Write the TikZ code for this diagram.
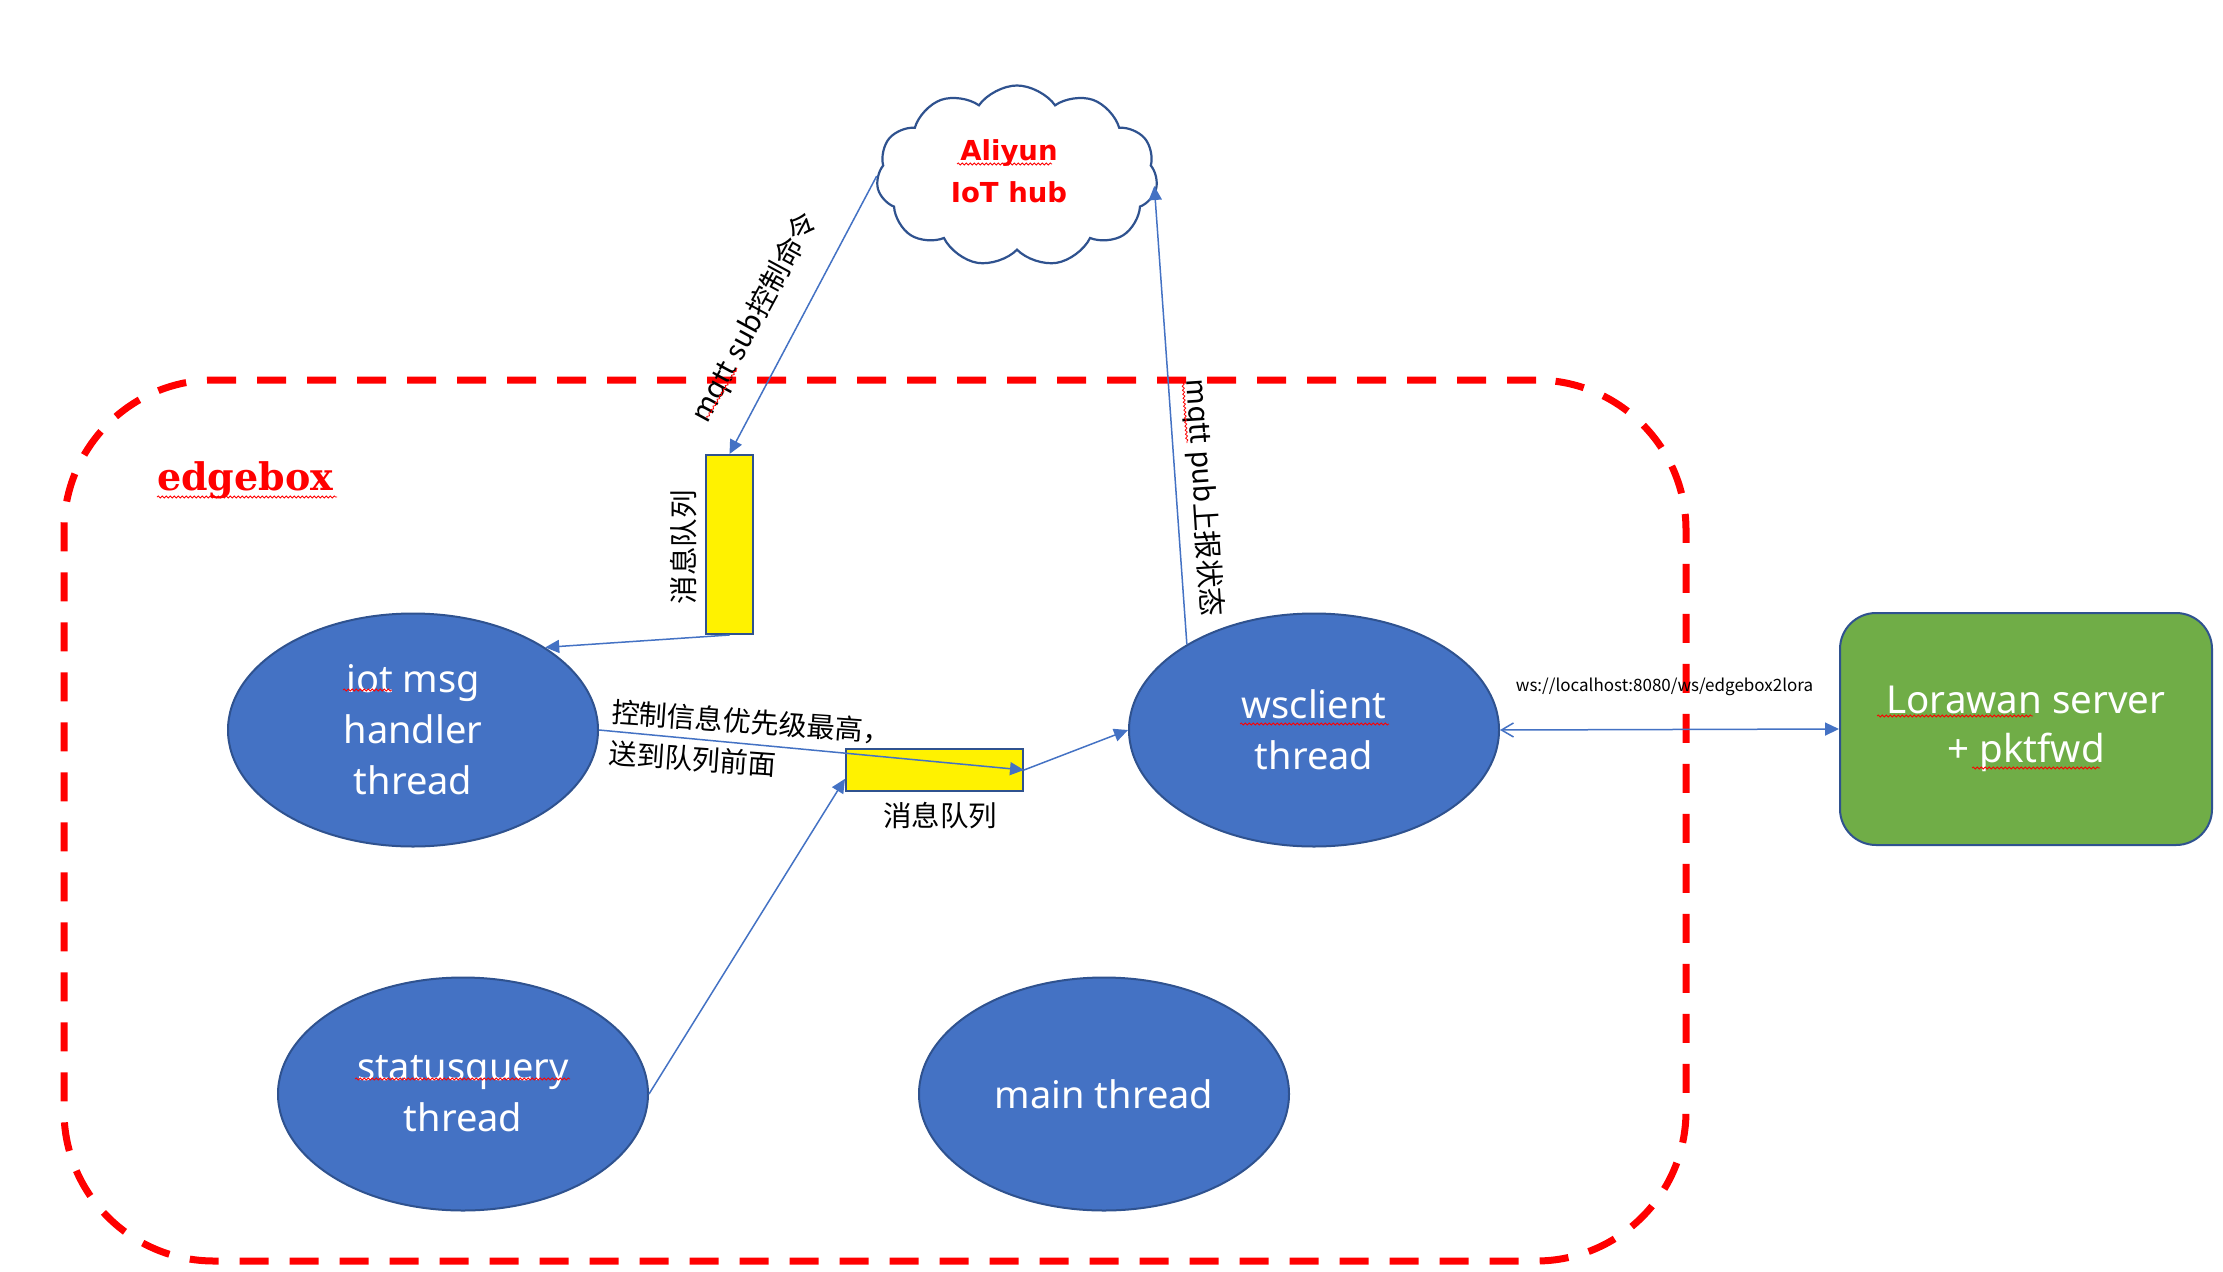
\documentclass[tikz,border=0pt]{standalone}
\usepackage{fontspec}
\usetikzlibrary{shapes.geometric,shapes.symbols,arrows.meta,calc,decorations.pathmorphing}
\newfontfamily\cjkf{Noto Sans CJK SC}
\newfontfamily\nsf{Noto Sans}
\newfontfamily\dvsf{DejaVu Sans}
\newfontfamily\dvserf{DejaVu Serif}
\definecolor{ppblue}{HTML}{4472C4}
\definecolor{ppedge}{HTML}{2F528F}
\definecolor{ppgreen}{HTML}{70AD47}
\tikzset{
  thread/.style={ellipse, draw=ppedge, line width=2pt, fill=ppblue, minimum width=370pt, minimum height=233pt,
    text=white, font=\nsf\fontsize{38}{51}\selectfont, align=center, inner sep=0pt},
  lorabox/.style={rectangle, rounded corners=36pt, draw=ppedge, line width=2pt, fill=ppgreen, minimum width=372pt,
    minimum height=232pt, text=white, font=\nsf\fontsize{38.5}{49}\selectfont, align=center, inner sep=0pt},
  queue/.style={rectangle, draw=ppedge, line width=2pt, fill=yellow, inner sep=0pt},
  conn/.style={draw=ppblue, line width=1.5pt, -{Triangle[length=14pt,width=13pt]}},
  lbl/.style={font=\cjkf\fontsize{28.5}{34}\selectfont, inner sep=0pt},
  squig/.style={draw=red, line width=0.8pt, decorate, decoration={snake, amplitude=1pt, segment length=4pt}},
  frame/.style={rectangle, draw=red, line width=7pt, dash pattern=on 29pt off 21pt, rounded corners=150pt, inner sep=0pt}
}
\begin{document}
\begin{tikzpicture}[x=1pt,y=-1pt]
\useasboundingbox[fill=white] (0,0) rectangle (2223,1271);

% edgebox frame
\node[frame, minimum width=1622pt, minimum height=881pt] (edgeframe) at (875,820.5) {};
\node[font=\dvserf\bfseries\fontsize{38}{42}\selectfont, text=red, anchor=base west, inner sep=0pt] (eb) at (157,490) {edgebox};

% cloud
\node[cloud, cloud puffs=11, cloud puff arc=110, draw=ppedge, line width=2.2pt, fill=white,
      minimum width=281pt, minimum height=181pt, inner sep=0pt] (hub) at (1017,176) {};
\node[font=\dvsf\bfseries\fontsize{27.5}{42}\selectfont, text=red, align=center, inner sep=0pt] (hubtxt) at (1009,171) {Aliyun\\IoT hub};

% threads
\node[thread] (iot) at (413,730) {iot msg\\handler\\thread};
\node[thread] (ws) at (1314,730) {wsclient\\thread};
\node[thread] (sq) at (463,1094) {statusquery\\thread};
\node[thread] (mt) at (1104,1094) {main thread};
\node[lorabox] (lora) at (2026,729) {Lorawan server\\+ pktfwd};

% queues
\node[queue, minimum width=47pt, minimum height=179pt] (vq) at (729.5,544.5) {};
\node[queue, minimum width=177pt, minimum height=42pt] (hq) at (934.5,770) {};

% connectors
\draw[conn] (hub.west) -- (vq.north);
\draw[conn] (vq.south) -- (iot.32.5);
\draw[conn] (iot.east) -- (hq.east);
\draw[conn] (hq.east) -- (ws.west);
\draw[conn] (sq.east) -- ($(hq.south west)!0.3!(hq.north west)$);
\draw[conn] (ws.146.7) -- ($(hub.east)+(-3,10)$);
\draw[draw=ppblue, line width=1.5pt, {Straight Barb[length=12pt,width=14pt]}-{Triangle[length=14pt,width=13pt]}] (ws.east) -- (lora.west);

% labels
\node[lbl, rotate=90] (vqlbl) at (684,547) {消息队列};
\node[lbl] (hqlbl) at (940,816) {消息队列};
\node[lbl, rotate=61.5] (sublbl) at (755,318) {mqtt sub控制命令};
\node[lbl, rotate=-86.3] (publbl) at (1203,498) {mqtt pub上报状态};
\node[lbl, font=\cjkf\fontsize{28}{41}\selectfont, align=left, rotate=-4] (prio) at (750,742) {控制信息优先级最高，\\送到队列前面};
\node[font=\cjkf\fontsize{17}{20}\selectfont, anchor=base, inner sep=0pt] (wsurl) at (1664.5,691) {ws://localhost:8080/ws/edgebox2lora};

% spell-check squiggles
\draw[squig] (957,164) -- (1052,164);
\draw[squig] (157,497) -- (337,497);
\draw[squig] (343,690) -- (392,690);
\draw[squig] (1240,724) -- (1389,724);
\draw[squig] (1877,716) -- (2033,716);
\draw[squig] (1972,768) -- (2100,768);
\draw[squig] (355,1079) -- (570,1079);
\draw[squig] (707,418) -- (737,368);
\draw[squig] (1183,383) -- (1187,443);
\end{tikzpicture}
\end{document}
